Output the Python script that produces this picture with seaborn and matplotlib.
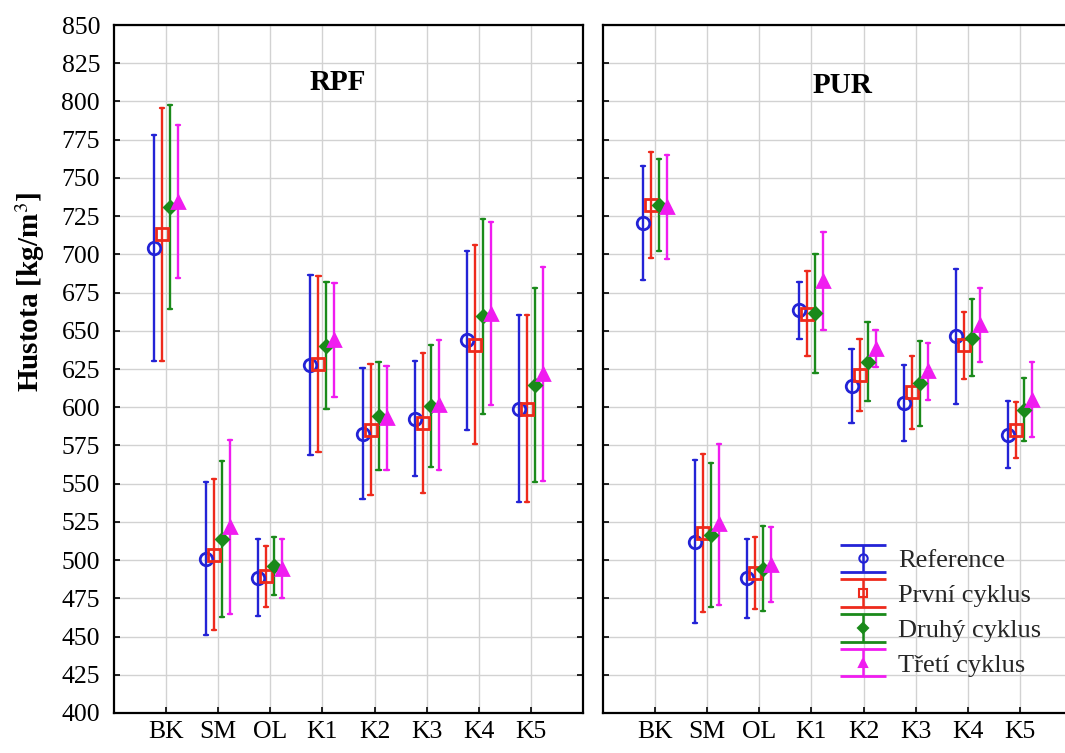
import numpy as np
import pandas as pd
import matplotlib
matplotlib.use("Agg")
import matplotlib.pyplot as plt
import seaborn as sns
from matplotlib.lines import Line2D
from matplotlib.collections import LineCollection
from matplotlib.container import ErrorbarContainer
from matplotlib.legend_handler import HandlerErrorbar

categories = ["BK", "SM", "OL", "K1", "K2", "K3", "K4", "K5"]
series = ["Reference", "První cyklus", "Druhý cyklus", "Třetí cyklus"]
panels = ["RPF", "PUR"]

# Density means [kg/m3] and half-widths of the intervals, per adhesive
rpf_ref_mean = [704, 501, 488.5, 627.5, 582.7, 592.4, 643.8, 599]
rpf_ref_err = [74, 50, 25, 58.7, 43, 37.7, 58.6, 61]
rpf_c1_mean = [713, 503.5, 489.5, 628.5, 585.4, 589.6, 641, 599]
rpf_c1_err = [83, 49.5, 20, 57.5, 42.7, 45.9, 65, 61]
rpf_c2_mean = [731, 513.5, 496, 640.2, 594.3, 601, 659.4, 614.7]
rpf_c2_err = [67, 51, 19, 41.5, 35.3, 40, 63.9, 63.5]
rpf_c3_mean = [734.5, 521.5, 494.5, 644, 593, 601.6, 661.2, 621.5]
rpf_c3_err = [50, 57, 19, 37, 34, 42.6, 60, 70]

pur_ref_mean = [720.3, 512, 488, 663.4, 614, 603, 646.4, 582]
pur_ref_err = [37.3, 53.3, 25.6, 18.6, 24.4, 24.8, 44, 21.8]
pur_c1_mean = [732.3, 517.8, 491.5, 661.3, 621, 609.7, 640.5, 585.2]
pur_c1_err = [34.7, 51.5, 23.5, 27.7, 23.3, 24, 22, 18.5]
pur_c2_mean = [732.2, 516.3, 494.5, 661.5, 629.8, 615.6, 645.5, 598.4]
pur_c2_err = [30.2, 47, 27.8, 39, 26, 28, 25, 20.6]
pur_c3_mean = [731, 523.4, 497, 682.7, 638.4, 623.6, 653.7, 605]
pur_c3_err = [34, 52.7, 24.5, 32, 12.4, 18.7, 24.3, 24.5]

colors = ["#2323d6", "#ee2a1c", "#1a8a1a", "#f01cf0"]
markers = ["o", "s", "D", "^"]
marker_sizes = [9, 8, 6.5, 8.5]
filled = [False, False, True, True]

panel_data = {
    "RPF": [(rpf_ref_mean, rpf_ref_err), (rpf_c1_mean, rpf_c1_err),
            (rpf_c2_mean, rpf_c2_err), (rpf_c3_mean, rpf_c3_err)],
    "PUR": [(pur_ref_mean, pur_ref_err), (pur_c1_mean, pur_c1_err),
            (pur_c2_mean, pur_c2_err), (pur_c3_mean, pur_c3_err)],
}

# Long table: lower bound, mean and upper bound for every group, so the
# median is the mean and the min/max span is the interval
rows = []
for panel in panels:
    for name, (means, errs) in zip(series, panel_data[panel]):
        for cat, m, e in zip(categories, means, errs):
            for v in (m - e, m, m + e):
                rows.append({"panel": panel, "category": cat, "series": name, "density": v})
df = pd.DataFrame(rows)

sns.set_theme(style="whitegrid")
plt.rcParams["font.family"] = ["Liberation Serif", "DejaVu Serif"]
plt.rcParams["mathtext.fontset"] = "stix"

fig = plt.figure(figsize=(10.65, 7.53), dpi=100)
ax_w = 469 / 1065
ax_h = (713 - 25) / 753
ax_b = 1 - 713 / 753
axes = [fig.add_axes([114 / 1065, ax_b, ax_w, ax_h]),
        fig.add_axes([603 / 1065, ax_b, ax_w, ax_h])]

title_pos = {"RPF": (0.478, 0.917), "PUR": (0.51, 0.912)}

for ax, panel in zip(axes, panels):
    sub = df[df["panel"] == panel]
    sns.pointplot(data=sub, x="category", y="density", hue="series",
                  order=categories, hue_order=series, palette=colors,
                  estimator="median", errorbar=lambda v: (v.min(), v.max()),
                  dodge=0.46, linestyles="none", markers=markers,
                  capsize=0.08, err_kws={"linewidth": 1.7},
                  markersize=8, markeredgewidth=2.0, legend=False, ax=ax)
    for line in ax.lines:
        mk = line.get_marker()
        if mk in markers:
            idx = markers.index(mk)
            if not filled[idx]:
                line.set_markerfacecolor("none")
            line.set_markersize(marker_sizes[idx])
            line.set_zorder(4)
        else:
            line.set_zorder(3)

    ax.set_xlim(-1, 8)
    ax.set_ylim(400, 850)
    ax.set_yticks(np.arange(400, 851, 25))
    ax.set_xlabel("")
    ax.set_ylabel("")
    ax.grid(True, color="#d2d2d2", linewidth=1.0)
    ax.set_axisbelow(True)
    for sp in ax.spines.values():
        sp.set_color("black")
        sp.set_linewidth(1.6)
        sp.set_visible(True)
    ax.tick_params(axis="both", direction="in", length=4, width=1.2,
                   color="black", labelsize=18.5, labelcolor="black")
    ax.tick_params(axis="y", left=True, right=True, pad=10)
    ax.tick_params(axis="x", bottom=True, top=False, pad=6)
    ax.text(*title_pos[panel], panel, transform=ax.transAxes, ha="center",
            va="center", fontsize=21, fontweight="bold", color="black")

axes[1].tick_params(axis="y", labelleft=False)
axes[0].set_ylabel("Hustota [kg/m$^3$]", fontsize=21, fontweight="bold",
                   color="black", labelpad=8)
axes[0].yaxis.set_label_coords(-0.142, 0.612)

# Legend entries drawn as error-bar glyphs with wide caps
handles = []
for c, m, f in zip(colors, markers, filled):
    pt = Line2D([], [], color=c, marker=m, markersize=6 if m != "D" else 5,
                markerfacecolor=c if f else "none", markeredgewidth=1.5,
                linestyle="none")
    cap = Line2D([], [], color=c, marker="_", markersize=33,
                 markeredgewidth=2.0, linestyle="none")
    bar = LineCollection([], colors=c, linewidths=1.8)
    handles.append(ErrorbarContainer((pt, (cap, cap), (bar,)),
                                     has_xerr=False, has_yerr=True))
fig.legend(handles, series, loc="upper left",
           bbox_to_anchor=(839 / 1065, 1 - 549 / 753), frameon=False,
           fontsize=19, numpoints=1, borderpad=0, borderaxespad=0,
           handlelength=1.8, handletextpad=0.45, labelspacing=0.43,
           handler_map={ErrorbarContainer: HandlerErrorbar(xerr_size=0.5, yerr_size=0.52)})

fig.savefig("out.png", dpi=100)
